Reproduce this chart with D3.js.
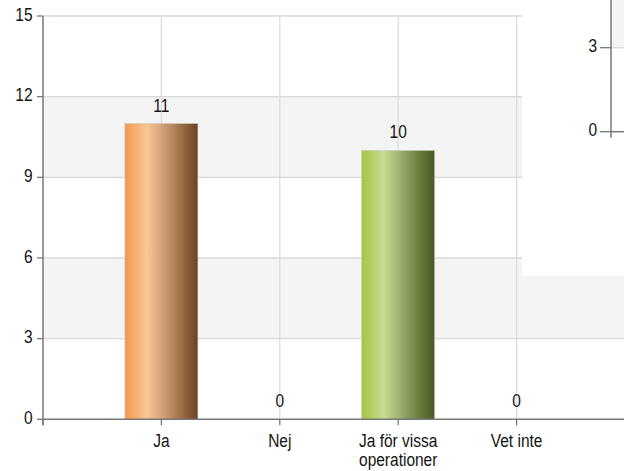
<!DOCTYPE html>
<html>
<head>
<meta charset="utf-8">
<script src="https://cdn.jsdelivr.net/npm/d3@7/dist/d3.min.js"></script>
<style>
  html, body { margin: 0; padding: 0; background: #fff; }
  svg { display: block; }
  text { font-family: "Liberation Sans", Arial, sans-serif; fill: #141414; }
</style>
</head>
<body>
<svg id="chart" width="624" height="471"></svg>
<script>
// ---- data ----
const categories = ["Ja", "Nej", "Ja för vissa\noperationer", "Vet inte"];
const values = [11, 0, 10, 0];
const yTicks = [0, 3, 6, 9, 12, 15];
const insetTicks = [0, 3];

// ---- layout ----
const svg = d3.select("#chart");
const FS = 15.5, SY = 1.16;
const x = d3.scaleLinear().domain([0, 5]).range([43, 635]);
const y = d3.scaleLinear().domain([0, 15]).range([419.3, 16]);
const barW = 73;
const right = 624;

// bands
svg.append("g").selectAll("rect").data(d3.pairs(yTicks)).join("rect")
  .attr("x", x(0)).attr("width", right - x(0))
  .attr("y", d => y(d[1])).attr("height", d => y(d[0]) - y(d[1]))
  .attr("fill", (d, i) => i % 2 === 1 ? "#f4f4f4" : "#ffffff");

// horizontal grid
svg.append("g").selectAll("line").data(yTicks.filter(t => t > 0)).join("line")
  .attr("x1", x(0)).attr("x2", right)
  .attr("y1", d => y(d)).attr("y2", d => y(d))
  .attr("stroke", "#d8d8d8").attr("stroke-width", 1.3);

// vertical grid
svg.append("g").selectAll("line").data(categories.map((c, i) => i + 1)).join("line")
  .attr("x1", d => x(d)).attr("x2", d => x(d))
  .attr("y1", y(15)).attr("y2", y(0))
  .attr("stroke", "#dcdcdc").attr("stroke-width", 1.3);

// gradients
const defs = svg.append("defs");
const grads = [
  { id: "gOrange", stops: [[0, "#f3984c"], [0.3, "#f9c696"], [0.55, "#cc9a72"], [0.78, "#9c6c45"], [1, "#6a4221"]] },
  { id: "gGreen",  stops: [[0, "#a3c63e"], [0.3, "#c9dc92"], [0.58, "#91a566"], [0.8, "#687b3c"], [1, "#475a20"]] }
];
grads.forEach(g => {
  const lg = defs.append("linearGradient").attr("id", g.id)
    .attr("x1", "0%").attr("x2", "100%").attr("y1", "0%").attr("y2", "0%");
  g.stops.forEach(s => lg.append("stop").attr("offset", s[0]).attr("stop-color", s[1]));
});
const fills = ["url(#gOrange)", "none", "url(#gGreen)", "none"];

// bars
svg.append("g").selectAll("rect").data(values).join("rect")
  .attr("x", (d, i) => x(i + 1) - barW / 2).attr("width", barW)
  .attr("y", d => y(d)).attr("height", d => y(0) - y(d))
  .attr("fill", (d, i) => fills[i])
  .attr("stroke", "#c8c8c8").attr("stroke-width", 0.6)
  .style("display", d => d > 0 ? null : "none");

function txt(g, tx, ty, s, anchor) {
  g.append("text").attr("transform", `translate(${tx},${ty}) scale(1,${SY})`)
    .attr("text-anchor", anchor).attr("font-size", FS).text(s);
}

// value labels
const vl = svg.append("g");
values.forEach((v, i) => txt(vl, x(i + 1), y(v) - 12, String(v), "middle"));

// axes
const axisColor = "#777";
svg.append("line").attr("x1", x(0)).attr("x2", right).attr("y1", y(0)).attr("y2", y(0))
  .attr("stroke", axisColor).attr("stroke-width", 1.5);
svg.append("line").attr("x1", x(0)).attr("x2", x(0)).attr("y1", y(15)).attr("y2", y(0) + 6)
  .attr("stroke", axisColor).attr("stroke-width", 1.5);

// y ticks
const yt = svg.append("g");
yTicks.forEach(t => {
  yt.append("line").attr("x1", x(0) - 6).attr("x2", x(0)).attr("y1", y(t)).attr("y2", y(t))
    .attr("stroke", axisColor).attr("stroke-width", 1.3);
  txt(yt, 32.5, y(t) + 4.7, String(t), "end");
});

// x ticks + labels
const xt = svg.append("g");
[0, 1, 2, 3, 4].forEach(t => {
  xt.append("line").attr("x1", x(t)).attr("x2", x(t)).attr("y1", y(0)).attr("y2", y(0) + 6)
    .attr("stroke", axisColor).attr("stroke-width", 1.3);
});
categories.forEach((c, i) => {
  c.split("\n").forEach((ln, k) => txt(xt, x(i + 1), 447 + k * 19, ln, "middle"));
});

// ---- inset (partial second chart, top right) ----
const ix = 611;
const iy = d3.scaleLinear().domain([0, 3]).range([131.7, 47.7]);
const inset = svg.append("g");
inset.append("rect").attr("x", 522).attr("y", 0).attr("width", right - 522).attr("height", 275.7)
  .attr("fill", "#ffffff");
inset.append("rect").attr("x", ix).attr("y", 0).attr("width", right - ix).attr("height", iy(3))
  .attr("fill", "#f4f4f4");
inset.append("line").attr("x1", ix).attr("x2", right).attr("y1", iy(3)).attr("y2", iy(3))
  .attr("stroke", "#d8d8d8").attr("stroke-width", 1.3);
inset.append("line").attr("x1", ix).attr("x2", right).attr("y1", iy(0)).attr("y2", iy(0))
  .attr("stroke", axisColor).attr("stroke-width", 1.5);
inset.append("line").attr("x1", ix).attr("x2", ix).attr("y1", 0).attr("y2", iy(0) + 6)
  .attr("stroke", axisColor).attr("stroke-width", 1.5);
insetTicks.forEach(t => {
  inset.append("line").attr("x1", ix - 11).attr("x2", ix).attr("y1", iy(t)).attr("y2", iy(t))
    .attr("stroke", axisColor).attr("stroke-width", 1.3);
  txt(inset, 597, iy(t) + 4.7, String(t), "end");
});
</script>
</body>
</html>
